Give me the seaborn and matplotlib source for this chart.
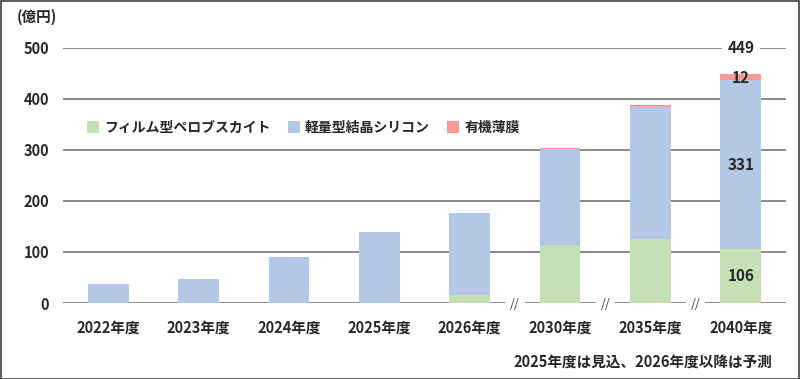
import matplotlib
matplotlib.use("Agg")
import matplotlib.pyplot as plt
import seaborn as sns
import pandas as pd
from matplotlib.lines import Line2D
from matplotlib.patches import Rectangle

years = ["2022年度", "2023年度", "2024年度", "2025年度", "2026年度", "2030年度", "2035年度", "2040年度"]
perovskite = [0, 0, 0, 0, 16, 114, 126, 106]
silicon = [37, 47, 90, 139, 160, 187, 258, 331]
organic = [0, 0, 0, 0, 1, 3, 5, 12]
series_names = ["フィルム型ペロブスカイト", "軽量型結晶シリコン", "有機薄膜"]
yticks = [0, 100, 200, 300, 400, 500]

c_green = "#C5E0B4"
c_blue = "#B4C7E7"
c_pink = "#FF9999"
W = "bold"

sns.set_theme(style="white")
plt.rcParams["font.family"] = ["Noto Sans CJK JP", "DejaVu Sans"]

df = pd.DataFrame({"year": years, "p": perovskite, "s": silicon, "o": organic})
df["ps"] = df["p"] + df["s"]
df["total"] = df["ps"] + df["o"]

fig = plt.figure(figsize=(8.0, 3.79), dpi=100)
ax = fig.add_axes([63/800, 1-303/379, (786-63)/800, (303-48)/379])

for v in yticks:
    ax.axhline(v, color="#808080", lw=1.3, zorder=0)

kw = dict(saturation=1, width=0.45, ax=ax, linewidth=0)
sns.barplot(data=df, x="year", y="total", color=c_pink, zorder=2, **kw)
sns.barplot(data=df, x="year", y="ps", color=c_blue, zorder=3, **kw)
sns.barplot(data=df, x="year", y="p", color=c_green, zorder=4, **kw)

ax.set_xlim(-0.5, 7.5)
ax.set_ylim(0, 500)
ax.set_yticks(yticks)
ax.set_yticklabels([str(v) for v in yticks], fontsize=10.5, fontweight=W)
ax.tick_params(axis="y", length=0, pad=10)
ax.tick_params(axis="x", length=0, pad=12, labelsize=10.5)
for lab in ax.get_xticklabels():
    lab.set_fontweight(W)
ax.set_xlabel("")
ax.set_ylabel("")
for s in ax.spines.values():
    s.set_visible(False)

# break marks
for xb in [4.5, 5.5, 6.5]:
    ax.text(xb, -3, "//", ha="center", va="center", fontsize=9, color="#404040",
            style="italic", zorder=6,
            bbox=dict(facecolor="white", edgecolor="none", pad=3.5))

# labels on 2040
i = 7
ax.text(i, 500, f"{df['total'][i]}", ha="center", va="center", fontsize=11,
        fontweight=W, zorder=6, bbox=dict(facecolor="white", edgecolor="none", pad=4))
ax.text(i, df["ps"][i] + organic[i] / 2 - 2, f"{organic[i]}", ha="center", va="center",
        fontsize=11, fontweight=W, zorder=6)
ax.text(i, perovskite[i] + silicon[i] / 2, f"{silicon[i]}", ha="center", va="center",
        fontsize=11, fontweight=W, zorder=6)
ax.text(i, perovskite[i] / 2, f"{perovskite[i]}", ha="center", va="center",
        fontsize=11, fontweight=W, zorder=6)

handles = [Line2D([], [], marker="s", ls="", markersize=8, color=c, markeredgewidth=0)
           for c in [c_green, c_blue, c_pink]]
fig.legend(handles, series_names, loc="center left", bbox_to_anchor=(76/800, 1-128/379),
           ncol=3, frameon=False, handlelength=0.6, handletextpad=0.5, columnspacing=1.4,
           prop={"size": 10, "weight": W})

fig.text(17/800, 1-17/379, "(億円)", ha="left", va="center", fontsize=10.5, fontweight=W)
fig.text(772/800, 1-362/379, "2025年度は見込、2026年度以降は予測", ha="right", va="center",
         fontsize=10.5, fontweight=W)

fig.add_artist(Rectangle((0.5/800, 0.5/379), 1-1.5/800, 1-1.5/379, transform=fig.transFigure,
                         fill=False, edgecolor="#404040", lw=1.2))

fig.savefig("out.png", dpi=100)
